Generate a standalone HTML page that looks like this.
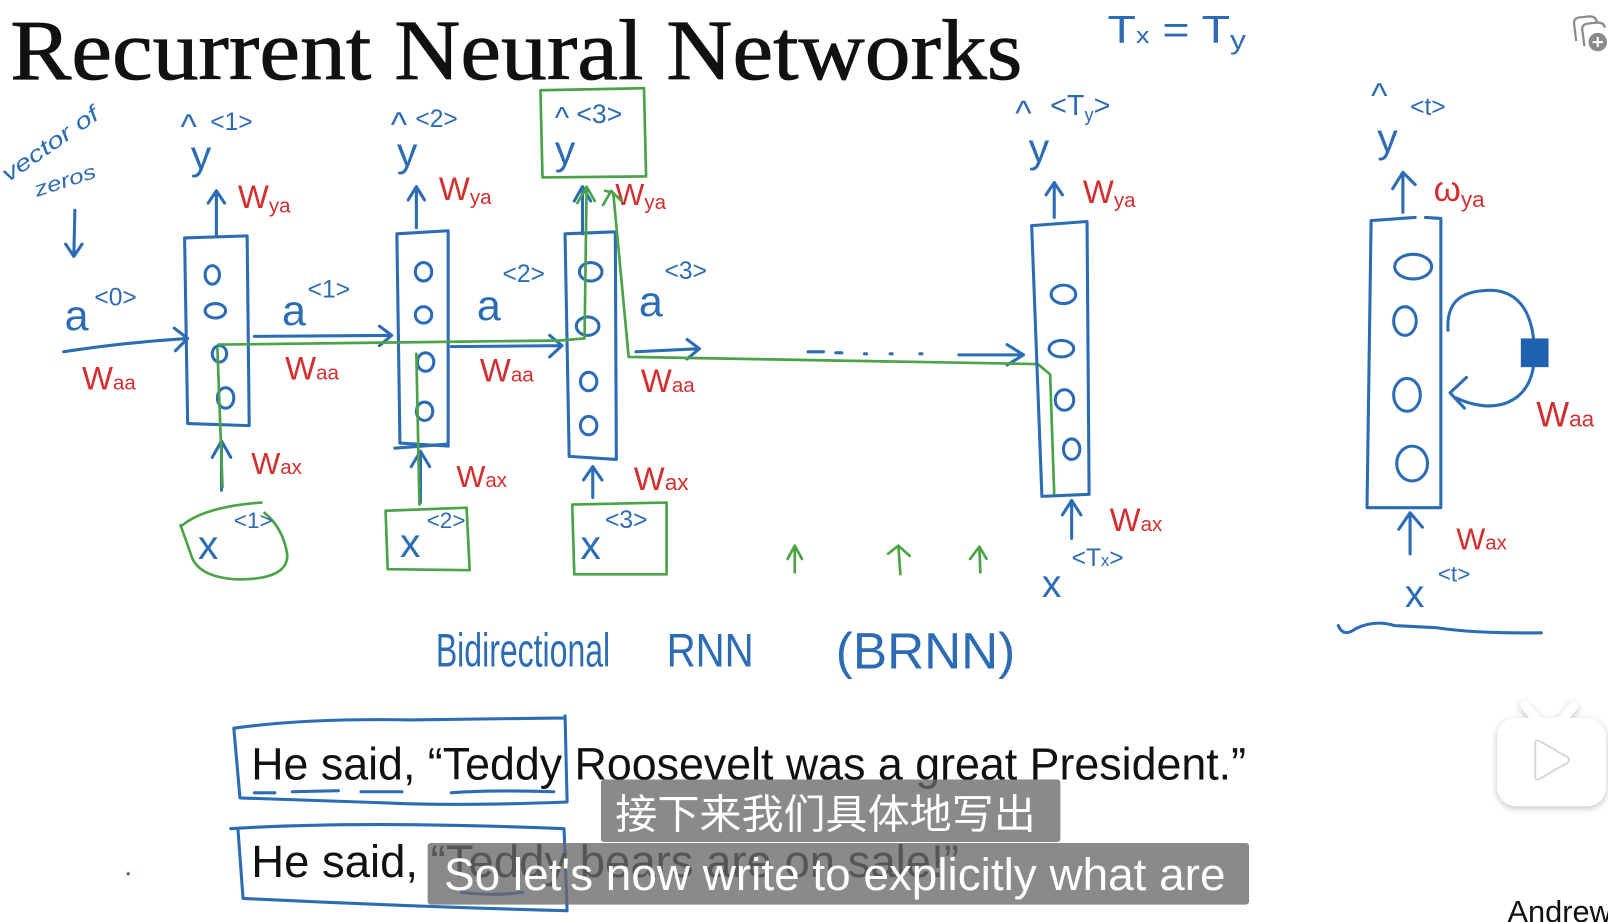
<!DOCTYPE html>
<html>
<head>
<meta charset="utf-8">
<style>
html,body{margin:0;padding:0;background:#fff;overflow:hidden;}
svg{display:block;}
.b{stroke:#2b6cb5;fill:none;stroke-width:3;stroke-linecap:round;stroke-linejoin:round;}
.g{stroke:#4aa346;fill:none;stroke-width:2.6;stroke-linecap:round;stroke-linejoin:round;}
.bt{fill:#2b6cb5;font-family:"Liberation Sans",sans-serif;}
.rt{fill:#d42e2e;font-family:"Liberation Sans",sans-serif;}
</style>
</head>
<body>
<svg width="1608" height="922" viewBox="0 0 1568 899" preserveAspectRatio="none" xmlns="http://www.w3.org/2000/svg">
<defs>
<filter id="sh" x="-20%" y="-20%" width="140%" height="140%">
<feDropShadow dx="0" dy="2" stdDeviation="3" flood-color="#000" flood-opacity="0.25"/>
</filter>
</defs>
<rect x="0" y="0" width="1568" height="899" fill="#fff"/>

<!-- Title -->
<text x="10" y="77" font-family="'Liberation Serif',serif" font-size="84" fill="#111" stroke="#111" stroke-width="0.8" textLength="987" lengthAdjust="spacingAndGlyphs">Recurrent Neural Networks</text>

<!-- Tx = Ty -->
<text x="1080" y="42" class="bt" font-size="38" textLength="135" lengthAdjust="spacingAndGlyphs">T<tspan font-size="22">x</tspan> = T<tspan font-size="26" dy="6">y</tspan></text>

<!-- vector of zeros -->
<text x="8" y="178" class="bt" font-size="22" font-style="italic" transform="rotate(-35 8 178)" textLength="110" lengthAdjust="spacingAndGlyphs">vector of</text>
<text x="36" y="192" class="bt" font-size="20" font-style="italic" transform="rotate(-18 36 192)" textLength="62" lengthAdjust="spacingAndGlyphs">zeros</text>
<path class="b" d="M73,205 L72,250 M64,238 L72,250 L80,238"/>

<!-- a<0> -->
<text x="63" y="322" class="bt" font-size="42">a</text>
<text x="92" y="298" class="bt" font-size="24">&lt;0&gt;</text>
<path class="b" d="M62,343 Q120,334 183,330 M170,320 L183,330 L171,342"/>
<text x="80" y="380" class="rt" font-size="32">W<tspan font-size="20">aa</tspan></text>

<!-- Cell 1 -->
<path class="b" d="M180,232 L241,230 L243,415 L183,413 Z"/>
<ellipse class="b" cx="207" cy="268" rx="7" ry="9"/>
<ellipse class="b" cx="210" cy="303" rx="10" ry="7"/>
<ellipse class="b" cx="214" cy="345" rx="7" ry="8"/>
<ellipse class="b" cx="220" cy="388" rx="8" ry="10"/>
<path class="b" d="M211,230 L211,186 M203,198 L211,186 L219,198"/>
<text x="232" y="203" class="rt" font-size="32">W<tspan font-size="20" dy="4">ya</tspan></text>
<text x="186" y="165" class="bt" font-size="40">y</text>
<text x="176" y="135" class="bt" font-size="34">^</text>
<text x="205" y="127" class="bt" font-size="24">&lt;1&gt;</text>
<path class="b" d="M216,478 L216,430 M207,446 L216,430 L225,446"/>
<text x="245" y="462" class="rt" font-size="30">W<tspan font-size="20">ax</tspan></text>
<path class="g" d="M178,512 Q200,494 255,490 M176,512 L186,540 Q192,563 232,565 Q282,565 280,540 Q276,515 258,500"/>
<text x="193" y="545" class="bt" font-size="40">x</text>
<text x="228" y="515" class="bt" font-size="22">&lt;1&gt;</text>

<!-- a<1> -->
<text x="275" y="317" class="bt" font-size="42">a</text>
<text x="300" y="290" class="bt" font-size="24">&lt;1&gt;</text>
<path class="b" d="M248,328 L382,327 M370,318 L382,327 L370,337"/>
<text x="278" y="370" class="rt" font-size="32">W<tspan font-size="20">aa</tspan></text>

<!-- Cell 2 -->
<path class="b" d="M387,228 L437,225 L437,435 L390,432 Z"/>
<ellipse class="b" cx="413" cy="265" rx="8" ry="9"/>
<ellipse class="b" cx="413" cy="307" rx="8" ry="8"/>
<ellipse class="b" cx="415" cy="353" rx="8" ry="9"/>
<ellipse class="b" cx="414" cy="401" rx="8" ry="9"/>
<path class="b" d="M406,222 L406,182 M398,195 L406,182 L414,195"/>
<text x="428" y="195" class="rt" font-size="32">W<tspan font-size="20" dy="4">ya</tspan></text>
<text x="387" y="162" class="bt" font-size="40">y</text>
<text x="381" y="133" class="bt" font-size="34">^</text>
<text x="405" y="124" class="bt" font-size="24">&lt;2&gt;</text>
<path class="b" d="M410,490 L410,440 M401,455 L410,440 L419,455 M385,437 L437,433"/>
<text x="445" y="475" class="rt" font-size="30">W<tspan font-size="20">ax</tspan></text>
<path class="g" d="M376,498 L455,495 L458,556 L378,555 Z"/>
<text x="390" y="543" class="bt" font-size="40">x</text>
<text x="416" y="515" class="bt" font-size="22">&lt;2&gt;</text>

<!-- a<2> -->
<text x="465" y="312" class="bt" font-size="42">a</text>
<text x="490" y="275" class="bt" font-size="24">&lt;2&gt;</text>
<path class="b" d="M440,338 L548,337 M536,327 L548,337 L536,348"/>
<text x="468" y="372" class="rt" font-size="32">W<tspan font-size="20">aa</tspan></text>

<!-- Cell 3 -->
<path class="b" d="M551,228 L600,226 L601,448 L555,445 Z"/>
<ellipse class="b" cx="576" cy="265" rx="11" ry="9"/>
<ellipse class="b" cx="573" cy="318" rx="11" ry="9"/>
<ellipse class="b" cx="574" cy="372" rx="8" ry="9"/>
<ellipse class="b" cx="574" cy="415" rx="8" ry="9"/>
<path class="b" d="M568,228 L568,182 M560,196 L568,182 L576,196"/>
<path class="g" d="M527,88 L628,86 L630,172 L529,173 Z"/>
<text x="541" y="125" class="bt" font-size="30">^</text>
<text x="562" y="120" class="bt" font-size="26">&lt;3&gt;</text>
<text x="541" y="160" class="bt" font-size="40">y</text>
<text x="600" y="200" class="rt" font-size="30">W<tspan font-size="20" dy="4">ya</tspan></text>
<path class="b" d="M578,485 L578,455 M569,468 L578,455 L587,468"/>
<text x="618" y="478" class="rt" font-size="32">W<tspan font-size="22">ax</tspan></text>
<path class="g" d="M558,492 L650,490 L650,560 L560,560 Z"/>
<text x="566" y="545" class="bt" font-size="40">x</text>
<text x="590" y="515" class="bt" font-size="24">&lt;3&gt;</text>

<!-- a<3> -->
<text x="623" y="308" class="bt" font-size="42">a</text>
<text x="648" y="272" class="bt" font-size="24">&lt;3&gt;</text>
<path class="b" d="M620,343 L682,340 M670,331 L682,340 L670,350"/>
<text x="625" y="382" class="rt" font-size="32">W<tspan font-size="20">aa</tspan></text>

<!-- dots and arrow -->
<path class="b" d="M788,343 L803,343 M815,344 L821,344 M843,345 L845,345 M868,345 L870,345 M897,345 L899,345"/>
<path class="b" d="M935,346 L998,346 M982,336 L998,346 L982,356"/>

<!-- green paths -->
<path class="g" d="M213,336 L545,332 L570,330 L572,183 M563,198 L572,182 L580,196"/>
<path class="g" d="M212,340 L217,475"/>
<path class="g" d="M406,345 L409,492"/>
<path class="g" d="M590,186 L598,188 L613,348 L1012,355 L1024,365 L1028,482 M588,200 L596,186 L606,196"/>

<!-- Cell Ty -->
<path class="b" d="M1006,220 L1060,216 L1062,482 L1016,484 Z"/>
<ellipse class="b" cx="1037" cy="287" rx="12" ry="9"/>
<ellipse class="b" cx="1035" cy="340" rx="12" ry="8"/>
<ellipse class="b" cx="1038" cy="390" rx="9" ry="10"/>
<ellipse class="b" cx="1045" cy="438" rx="8" ry="10"/>
<path class="b" d="M1028,212 L1028,178 M1020,190 L1028,178 L1036,190"/>
<text x="1056" y="198" class="rt" font-size="32">W<tspan font-size="20" dy="4">ya</tspan></text>
<text x="1003" y="158" class="bt" font-size="40">y</text>
<text x="990" y="122" class="bt" font-size="34">^</text>
<text x="1024" y="112" class="bt" font-size="28">&lt;T<tspan font-size="18" dy="6">y</tspan><tspan dy="-6">&gt;</tspan></text>
<path class="b" d="M1045,525 L1045,488 M1036,502 L1045,488 L1054,502"/>
<text x="1082" y="518" class="rt" font-size="32">W<tspan font-size="20">ax</tspan></text>
<text x="1016" y="582" class="bt" font-size="38">x</text>
<text x="1045" y="552" class="bt" font-size="24">&lt;T<tspan font-size="16">x</tspan>&gt;</text>

<!-- green small arrows -->
<path class="g" d="M775,558 L775,532 M768,545 L775,532 L782,545"/>
<path class="g" d="M878,560 L876,532 M866,540 L876,532 L887,542"/>
<path class="g" d="M956,558 L955,533 M946,545 L955,533 L962,545"/>

<!-- Right cell -->
<path class="b" d="M1338,215 L1380,212 M1390,212 L1405,213 M1337,215 L1333,495 L1405,495 M1405,213 L1405,495"/>
<ellipse class="b" cx="1378" cy="260" rx="18" ry="12"/>
<ellipse class="b" cx="1370" cy="313" rx="11" ry="14"/>
<ellipse class="b" cx="1372" cy="385" rx="13" ry="16"/>
<ellipse class="b" cx="1377" cy="452" rx="15" ry="17"/>
<path class="b" d="M1368,207 L1368,168 M1358,184 L1368,168 L1380,180"/>
<text x="1398" y="196" class="rt" font-size="34">ω<tspan font-size="22" dy="6">ya</tspan></text>
<text x="1343" y="148" class="bt" font-size="40">y</text>
<text x="1337" y="105" class="bt" font-size="34">^</text>
<text x="1375" y="112" class="bt" font-size="24">&lt;t&gt;</text>
<path class="b" d="M1412,322 C1410,290 1430,283 1455,283 C1490,285 1497,320 1496,350 C1494,395 1455,405 1420,388 M1430,368 L1414,383 L1428,398"/>
<rect x="1483" y="330" width="27" height="28" fill="#2060b0"/>
<text x="1498" y="416" class="rt" font-size="34">W<tspan font-size="22">aa</tspan></text>
<path class="b" d="M1375,540 L1375,500 M1364,516 L1375,500 L1387,514"/>
<text x="1420" y="536" class="rt" font-size="30">W<tspan font-size="20">ax</tspan></text>
<text x="1370" y="592" class="bt" font-size="38">x</text>
<text x="1402" y="567" class="bt" font-size="22">&lt;t&gt;</text>
<path class="b" d="M1305,610 Q1310,622 1322,613 Q1340,604 1360,610 L1400,612 Q1440,618 1503,617"/>

<!-- Bidirectional RNN (BRNN) -->
<text x="425" y="650" class="bt" font-size="46" textLength="170" lengthAdjust="spacingAndGlyphs">Bidirectional</text>
<text x="650" y="650" class="bt" font-size="46" textLength="85" lengthAdjust="spacingAndGlyphs">RNN</text>
<text x="815" y="652" class="bt" font-size="50" textLength="175" lengthAdjust="spacingAndGlyphs">(BRNN)</text>

<!-- Sentences -->
<path class="b" d="M228,710 Q300,700 400,702 L550,700 M551,698 L553,782 Q450,786 380,783 L234,778 L228,710" stroke-width="2.6"/>
<path class="b" d="M248,773 L268,773 M285,772 L330,771 M352,772 L392,772 M440,773 Q480,770 540,772" stroke-width="2.6"/>
<text x="245" y="760" font-family="'Liberation Sans',sans-serif" font-size="44" fill="#111" textLength="970" lengthAdjust="spacingAndGlyphs">He said, “Teddy Roosevelt was a great President.”</text>
<path class="b" d="M225,808 Q350,800 550,808 M550,808 L553,888 Q400,884 237,876 L232,808" stroke-width="2.6"/>
<text x="245" y="855" font-family="'Liberation Sans',sans-serif" font-size="44" fill="#111" textLength="690" lengthAdjust="spacingAndGlyphs">He said, “Teddy bears are on sale!”</text>
<path class="b" d="M450,870 Q480,874 510,870" stroke-width="2.6"/>
<circle cx="125" cy="852" r="1.6" fill="#2b6cb5"/>

<!-- Subtitles -->
<rect x="586" y="760" width="448" height="61" rx="3" fill="rgba(105,105,105,0.78)"/>
<text x="600" y="808" font-family="'Liberation Sans','Noto Sans CJK SC',sans-serif" font-size="40" fill="#fff" textLength="410" lengthAdjust="spacingAndGlyphs">接下来我们具体地写出</text>
<rect x="417" y="822" width="801" height="60" rx="3" fill="rgba(105,105,105,0.78)"/>
<text x="433" y="868" font-family="'Liberation Sans',sans-serif" font-size="44" fill="#fff" textLength="762" lengthAdjust="spacingAndGlyphs">So let's now write to explicitly what are</text>

<!-- bilibili icon -->
<g filter="url(#sh)">
<path d="M1487,688 L1500,703 M1535,688 L1522,703" stroke="#fff" stroke-width="9" stroke-linecap="round"/>
<rect x="1460" y="700" width="106" height="86" rx="18" fill="#fff"/>
</g>
<path d="M1497,725 L1497,757 Q1497,762 1502,759 L1528,744 Q1532,741 1528,738 L1502,723 Q1497,720 1497,725 Z" fill="#fff" stroke="#d8d8d8" stroke-width="2"/>

<!-- Andrew -->
<text x="1470" y="899" font-family="'Liberation Sans',sans-serif" font-size="30" fill="#111">Andrew</text>

<!-- top right icon -->
<path d="M1537,40 L1535,24 Q1534,18 1540,17 L1550,16 Q1556,16 1557,21" stroke="#8a8a8a" stroke-width="2.2" fill="none"/>
<path d="M1545,45 L1543,30 Q1542,24 1548,23 L1558,22 Q1564,22 1565,27" stroke="#8a8a8a" stroke-width="2.2" fill="none"/>
<circle cx="1558" cy="41" r="9" fill="#8a8a8a"/>
<path d="M1553,41 L1563,41 M1558,36 L1558,46" stroke="#fff" stroke-width="2"/>
</svg>
</body>
</html>
